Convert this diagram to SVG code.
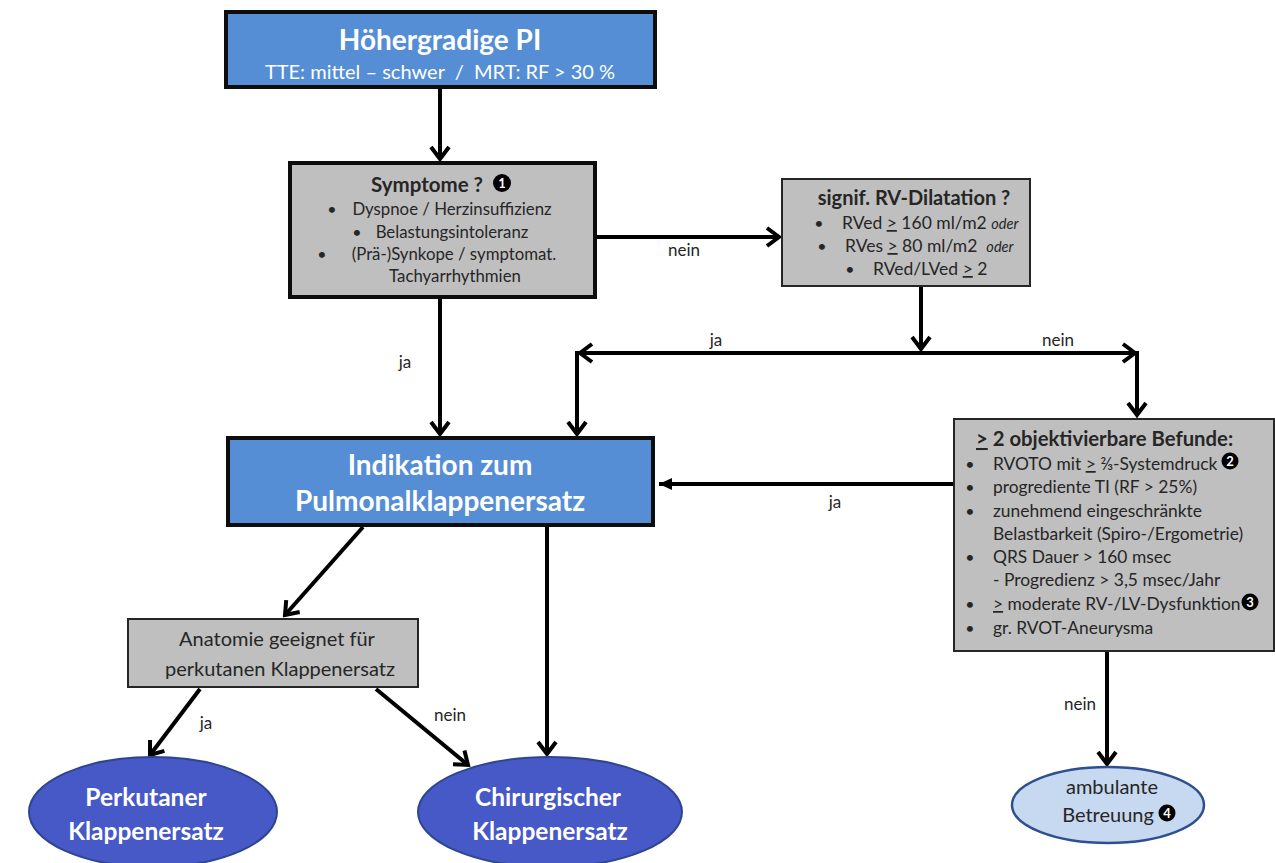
<svg xmlns="http://www.w3.org/2000/svg" width="1275" height="863" viewBox="0 0 1275 863">
  <defs>
    <!-- open chevron arrowhead -->
    <marker id="chev" viewBox="-15 -12 18 24" refX="0" refY="0" markerWidth="18" markerHeight="24" markerUnits="userSpaceOnUse" orient="auto">
      <path d="M-12,-9 L0,0 L-12,9" fill="none" stroke="#000" stroke-width="4" stroke-linejoin="miter"/>
    </marker>
    <!-- small filled arrowhead -->
    <marker id="tri" viewBox="-14 -8 16 16" refX="0" refY="0" markerWidth="16" markerHeight="16" markerUnits="userSpaceOnUse" orient="auto">
      <path d="M-13,-6 L0,0 L-13,6 Z" fill="#000"/>
    </marker>
  </defs>
  <style>
    text { font-family: Lato, "Liberation Sans", sans-serif; fill: #262626; }
    .blue { fill: #558ed5; stroke: #0d0d0d; stroke-width: 4; }
    .grey { fill: #bfbfbf; stroke: #0d0d0d; stroke-width: 4; }
    .grey2 { fill: #bfbfbf; stroke: #262626; stroke-width: 2; }
    .oval { fill: #4659c7; stroke: #2f4590; stroke-width: 2; }
    .oval2 { fill: #c6d9f1; stroke: #2f4f8f; stroke-width: 2.5; }
    .wt { fill: #ffffff; font-weight: bold; text-anchor: middle; }
    .ws { fill: #ffffff; text-anchor: middle; white-space: pre; }
    .c { text-anchor: middle; }
    .b { font-weight: bold; }
    .lbl { font-size: 17px; text-anchor: middle; }
    .conn { fill: none; stroke: #000; stroke-width: 4; }
    .num { fill: #000; }
    .numt { fill: #fff; font-weight: bold; font-size: 13px; text-anchor: middle; }
    .u { text-decoration: underline; }
    .it { font-style: italic; font-size: 14.5px; }
  </style>

  <!-- connectors -->
  <g id="connectors">
    <path class="conn" d="M440,89 V159" marker-end="url(#chev)"/>
    <path class="conn" d="M595,237 H779" marker-end="url(#chev)"/>
    <path class="conn" d="M440,298 V434" marker-end="url(#chev)"/>
    <path class="conn" d="M921,287 V349" marker-end="url(#chev)"/>
    <path class="conn" d="M921,353 H580" marker-end="url(#chev)"/>
    <path class="conn" d="M921,353 H1135" marker-end="url(#chev)"/>
    <path class="conn" d="M577,351 V434" marker-end="url(#chev)"/>
    <path class="conn" d="M1137,351 V415" marker-end="url(#chev)"/>
    <path class="conn" d="M953,484 H659" stroke-width="3.5" marker-end="url(#tri)"/>
    <path class="conn" d="M1107,652 V764" marker-end="url(#chev)"/>
    <path class="conn" d="M363,527 L285,615" marker-end="url(#chev)"/>
    <path class="conn" d="M547,527 V754" marker-end="url(#chev)"/>
    <path class="conn" d="M200,689 L150,755" marker-end="url(#chev)"/>
    <path class="conn" d="M376,689 L468,765" marker-end="url(#chev)"/>

    <text class="lbl" x="684" y="256">nein</text>
    <text class="lbl" x="405" y="368">ja</text>
    <text class="lbl" x="716" y="346">ja</text>
    <text class="lbl" x="1058" y="346">nein</text>
    <text class="lbl" x="835" y="508">ja</text>
    <text class="lbl" x="1080" y="710">nein</text>
    <text class="lbl" x="206" y="729">ja</text>
    <text class="lbl" x="450" y="721">nein</text>
  </g>

  <!-- start node -->
  <g id="start">
    <rect class="blue" x="226" y="12" width="429" height="75"/>
    <text class="wt" x="440" y="50" font-size="28">Höhergradige PI</text>
    <text class="ws" x="440" y="79" font-size="20" xml:space="preserve">TTE: mittel – schwer  /  MRT: RF &gt; 30 %</text>
  </g>

  <!-- symptoms decision -->
  <g id="symptome">
    <rect class="grey" x="290" y="163" width="305" height="134"/>
    <text class="c b" x="427" y="192" font-size="20.5">Symptome ?</text>
    <circle class="num" cx="502" cy="183" r="9"/>
    <text class="numt" x="502" y="187.5">1</text>
    <text x="332" y="215" font-size="16" class="c">•</text>
    <text x="452" y="215" font-size="16.8" class="c">Dyspnoe / Herzinsuffizienz</text>
    <text x="357" y="238" font-size="16" class="c">•</text>
    <text x="452" y="238" font-size="16.8" class="c">Belastungsintoleranz</text>
    <text x="322" y="260" font-size="16" class="c">•</text>
    <text x="454" y="260" font-size="16.8" class="c">(Prä-)Synkope / symptomat.</text>
    <text x="455" y="282" font-size="16.8" class="c">Tachyarrhythmien</text>
  </g>

  <!-- RV dilatation decision -->
  <g id="rv-dilatation">
    <rect class="grey2" x="782" y="179" width="248" height="107"/>
    <text class="c b" x="914" y="205" font-size="20">signif. RV-Dilatation ?</text>
    <text x="819" y="229" font-size="16" class="c">•</text>
    <text x="842" y="229" font-size="17.5">RVed <tspan class="u">&gt;</tspan> 160 ml/m2 <tspan class="it">oder</tspan></text>
    <text x="822" y="252" font-size="16" class="c">•</text>
    <text x="845" y="252" font-size="17.5" xml:space="preserve">RVes <tspan class="u">&gt;</tspan> 80 ml/m2  <tspan class="it">oder</tspan></text>
    <text x="850" y="275" font-size="16" class="c">•</text>
    <text x="873" y="275" font-size="17.5">RVed/LVed <tspan class="u">&gt;</tspan> 2</text>
  </g>

  <!-- indication node -->
  <g id="indikation">
    <rect class="blue" x="228" y="438" width="425" height="87"/>
    <text class="wt" x="440" y="475" font-size="28">Indikation zum</text>
    <text class="wt" x="440" y="511" font-size="28">Pulmonalklappenersatz</text>
  </g>

  <!-- objective findings -->
  <g id="befunde" font-size="17.4">
    <rect class="grey2" x="954" y="419" width="320" height="232"/>
    <text class="b" x="976" y="446" font-size="20.3"><tspan class="u">&gt;</tspan> 2 objektivierbare Befunde:</text>
    <text x="970" y="470" class="c" font-size="16">•</text>
    <text x="993" y="470">RVOTO mit <tspan class="u">&gt;</tspan> ⅔-Systemdruck</text>
    <circle class="num" cx="1230" cy="461" r="8.5"/>
    <text class="numt" x="1230" y="465.5">2</text>
    <text x="970" y="493" class="c" font-size="16">•</text>
    <text x="993" y="493">progrediente TI (RF &gt; 25%)</text>
    <text x="970" y="517" class="c" font-size="16">•</text>
    <text x="993" y="517">zunehmend eingeschränkte</text>
    <text x="993" y="540">Belastbarkeit (Spiro-/Ergometrie)</text>
    <text x="970" y="563" class="c" font-size="16">•</text>
    <text x="993" y="563">QRS Dauer &gt; 160 msec</text>
    <text x="993" y="586">- Progredienz &gt; 3,5 msec/Jahr</text>
    <text x="970" y="610" class="c" font-size="16">•</text>
    <text x="993" y="610"><tspan class="u">&gt;</tspan> moderate RV-/LV-Dysfunktion</text>
    <circle class="num" cx="1250" cy="602" r="8.5"/>
    <text class="numt" x="1250" y="606.5">3</text>
    <text x="970" y="634" class="c" font-size="16">•</text>
    <text x="993" y="634">gr. RVOT-Aneurysma</text>
  </g>

  <!-- anatomy decision -->
  <g id="anatomie">
    <rect class="grey2" x="128" y="619" width="290" height="68"/>
    <text class="c" x="277" y="646" font-size="20">Anatomie geeignet für</text>
    <text class="c" x="280" y="676" font-size="20">perkutanen Klappenersatz</text>
  </g>

  <!-- outcomes -->
  <g id="perkutan">
    <ellipse class="oval" cx="153" cy="812" rx="124" ry="55"/>
    <text class="wt" x="146" y="806" font-size="24.5">Perkutaner</text>
    <text class="wt" x="146" y="840" font-size="24.5">Klappenersatz</text>
  </g>
  <g id="chirurgisch">
    <ellipse class="oval" cx="550" cy="812" rx="132" ry="55"/>
    <text class="wt" x="548" y="806" font-size="24.5">Chirurgischer</text>
    <text class="wt" x="550" y="840" font-size="24.5">Klappenersatz</text>
  </g>
  <g id="ambulant">
    <ellipse class="oval2" cx="1108" cy="805" rx="96" ry="38"/>
    <text class="c" x="1112" y="794" font-size="20">ambulante</text>
    <text class="c" x="1108" y="822" font-size="20">Betreuung</text>
    <circle class="num" cx="1167" cy="813" r="8.5"/>
    <text class="numt" x="1167" y="817.5">4</text>
  </g>
</svg>
